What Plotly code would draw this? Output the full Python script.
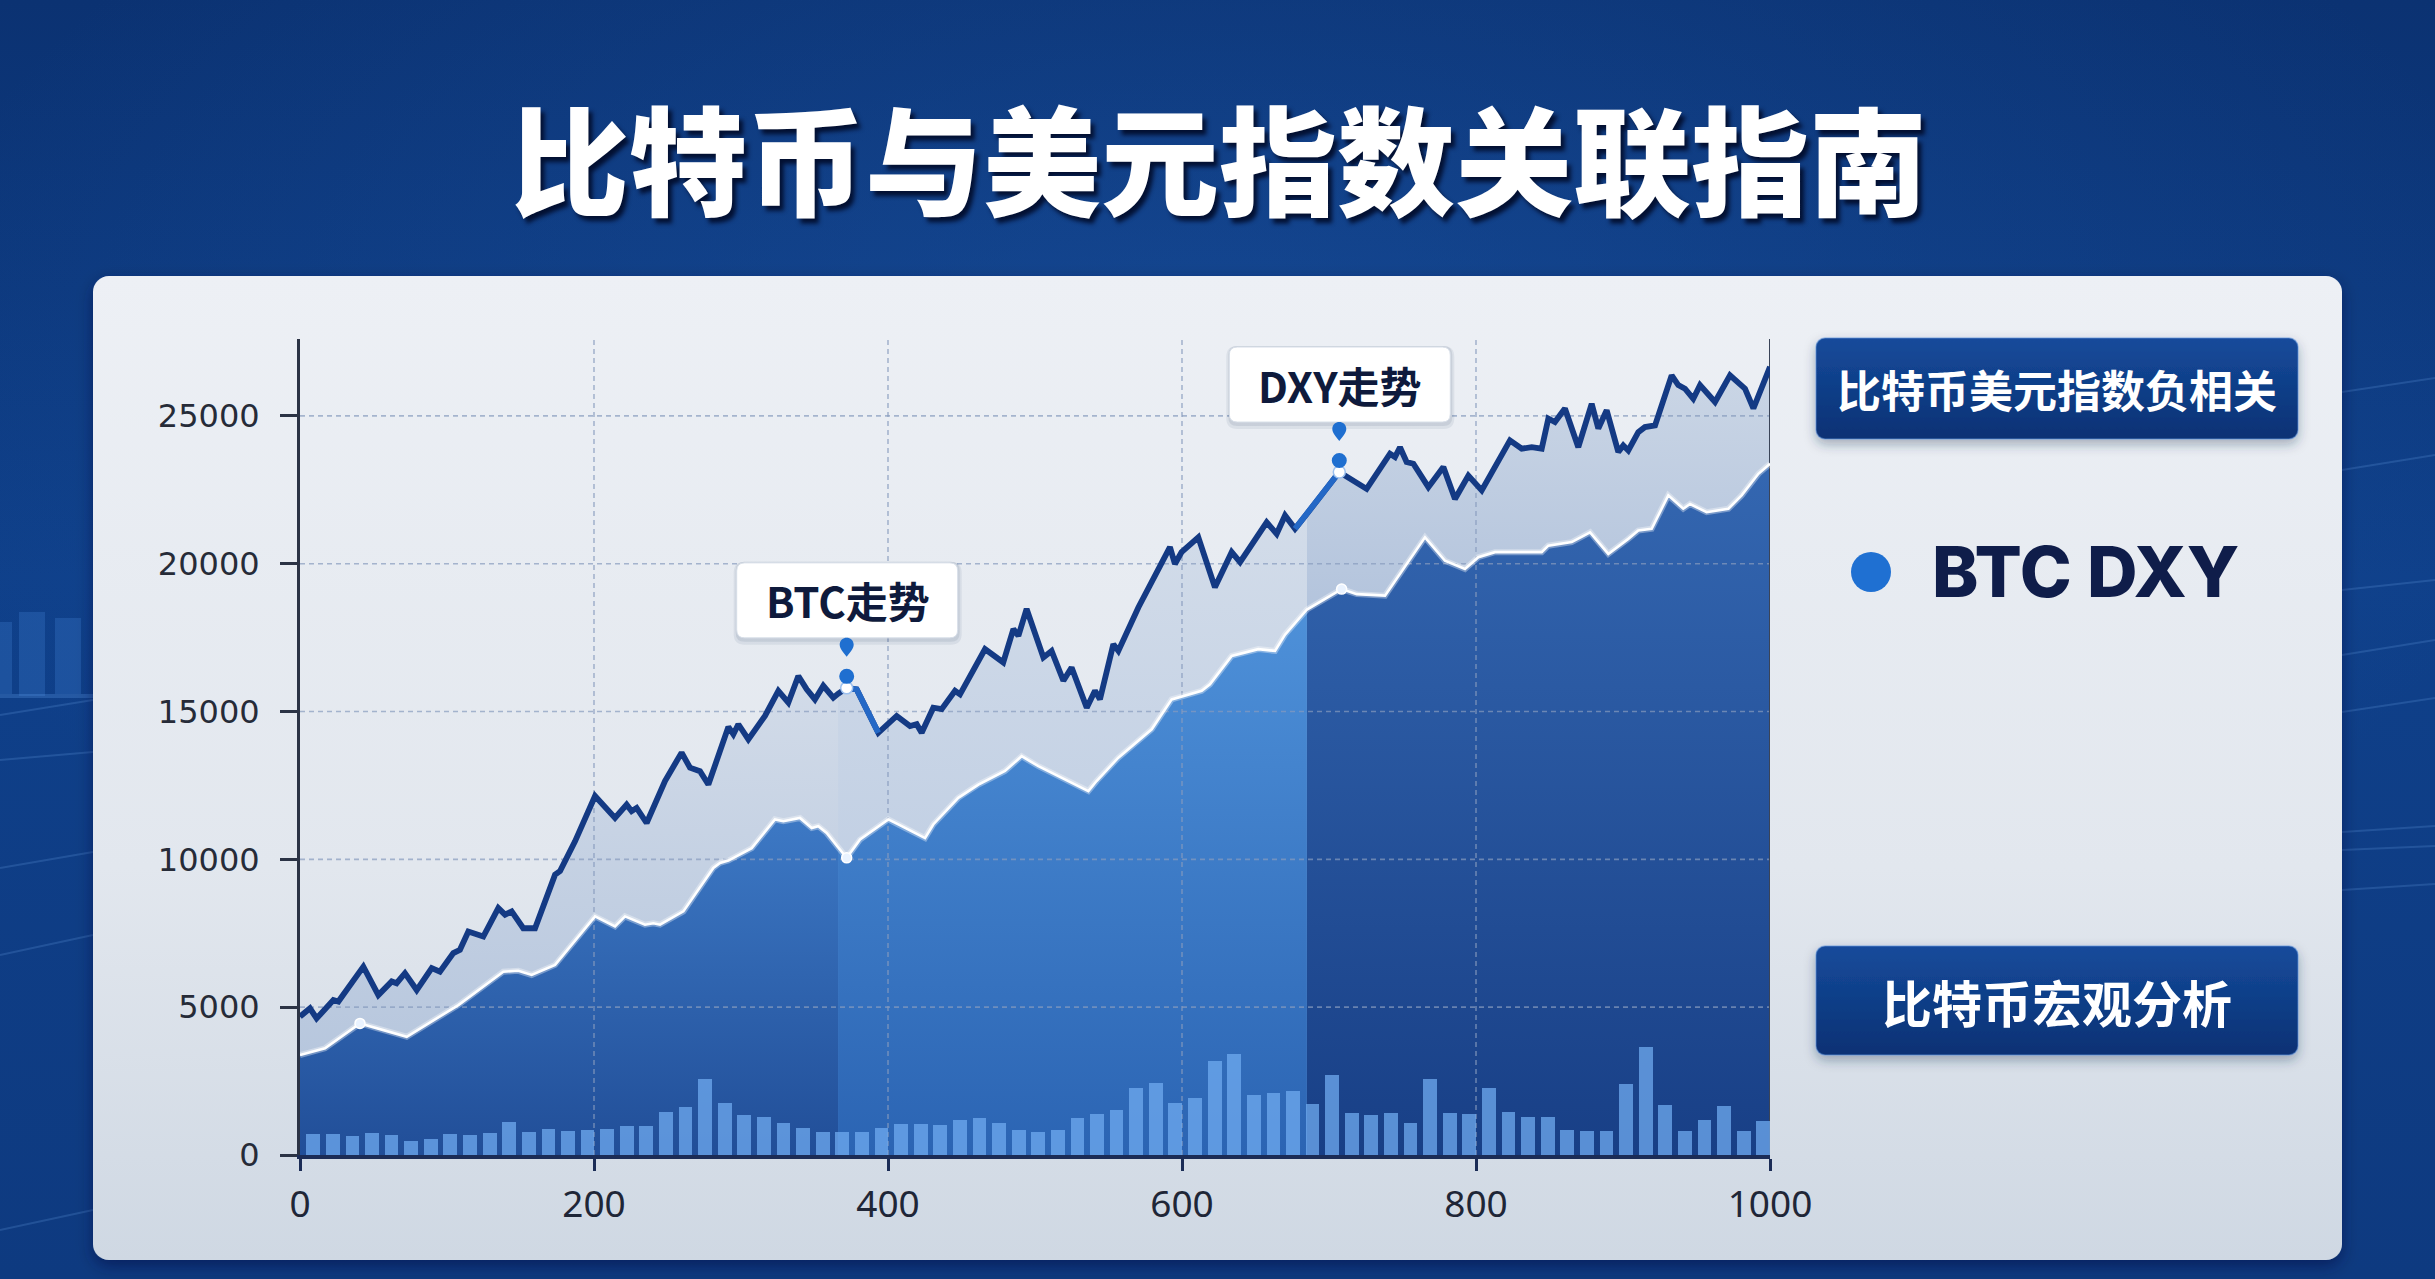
import base64
import plotly.graph_objects as go

# ---------------- canvas geometry ----------------
W, H = 2435, 1279
L, R, T, B = 300, 665, 339, 124
PW, PH = W - L - R, H - T - B

X_MAX = 1000
Y_MAX = 27600

# ---------------- data ----------------
x_ticks = [0, 200, 400, 600, 800, 1000]
y_ticks = [0, 5000, 10000, 15000, 20000, 25000]

btc_x = [0, 6.8, 11.3, 22.7, 26.1, 43.1, 53.3, 62.4, 65.7, 71.4,
         79.4, 89.6, 95.2, 104.3, 108.8, 114.5, 124.7, 134.9, 139.5, 144.0,
         151.9, 159.9, 173.5, 176.9, 187.1, 200.7, 214.3, 222.2, 225.6, 229.0,
         235.8, 248.3, 259.6, 265.3, 272.1, 277.8, 291.4, 294.8, 298.2, 305.0,
         316.3, 325.4, 332.2, 339.0, 344.7, 350.3, 356.0, 362.8, 366.0, 371.9,
         378.7, 393.4, 405.9, 415.0, 419.5, 422.9, 430.8, 436.5, 445.6, 449.0,
         466.0, 478.4, 485.3, 488.7, 494.3, 505.7, 511.3, 519.3, 524.9, 535.2,
         540.8, 544.2, 553.3, 556.7, 570.3, 591.8, 595.2, 599.7, 611.1, 622.4,
         633.8, 639.5, 657.6, 664.4, 670.1, 676.9, 685.0, 707.0, 725.6, 741.5,
         744.9, 748.3, 752.8, 757.4, 767.6, 777.8, 785.7, 794.8, 803.9, 823.1,
         831.1, 837.9, 844.7, 849.2, 853.7, 860.5, 869.6, 878.7, 883.2, 888.9,
         896.8, 900.2, 903.6, 910.4, 914.9, 921.8, 933.1, 937.6, 942.2, 947.8,
         952.4, 956.9, 962.6, 972.8, 978.5, 983.0, 988.7, 1000]
btc_y = [4680, 4960, 4620, 5240, 5190, 6370, 5410, 5870, 5810, 6150,
         5580, 6320, 6200, 6830, 6940, 7560, 7390, 8350, 8130, 8240,
         7670, 7670, 9480, 9600, 10610, 12140, 11400, 11850, 11630, 11740,
         11230, 12650, 13610, 13100, 12980, 12530, 14480, 14230, 14570, 14060,
         14850, 15700, 15300, 16200, 15750, 15410, 15870, 15470, 15600, 15800,
         15750, 14280, 14850, 14510, 14570, 14280, 15130, 15080, 15700, 15580,
         17110, 16660, 17790, 17560, 18470, 16830, 17050, 16040, 16490, 15130,
         15700, 15410, 17280, 17050, 18520, 20560, 19990, 20390, 20890, 19200,
         20390, 20050, 21400, 21010, 21630, 21180, 21690, 23100, 22530, 23720,
         23610, 23940, 23440, 23380, 22590, 23270, 22190, 22980, 22480, 24170,
         23890, 23940, 23890, 24910, 24790, 25250, 23940, 25410, 24570, 25190,
         23780, 24000, 23830, 24450, 24620, 24680, 26370, 26040, 25920, 25580,
         26040, 25810, 25470, 26370, 26150, 25920, 25250, 26660]

dxy_x = [0, 17.0, 40.8, 44.2, 72.6, 107.7, 138.3, 148.5, 157.6, 173.5,
         200.7, 214.3, 221.1, 234.7, 240.4, 244.9, 260.8, 281.2, 285.7, 291.4,
         307.3, 323.1, 328.8, 340.1, 348.1, 352.6, 358.3, 366.0, 371.9, 381.0,
         392.3, 400.2, 407.0, 425.2, 430.8, 447.8, 461.5, 472.8, 479.6, 490.9,
         502.3, 536.3, 541.9, 556.7, 570.3, 579.4, 593.0, 597.5, 613.4, 619.0,
         633.8, 651.9, 663.3, 670.1, 685.0, 708.6, 718.9, 738.1, 765.3, 778.9,
         792.5, 801.6, 812.9, 831.1, 844.7, 849.2, 865.1, 877.6, 890.0, 903.6,
         910.4, 919.5, 930.8, 941.0, 945.6, 956.9, 971.7, 980.7, 992.1, 1000]
dxy_y = [3380, 3610, 4450, 4400, 4000, 5070, 6200, 6230, 6090, 6430,
         8070, 7730, 8070, 7790, 7840, 7790, 8240, 9710, 9880, 9960,
         10380, 11350, 11290, 11400, 11060, 11120, 10890, 10410, 10050, 10670,
         11060, 11350, 11180, 10720, 11180, 12080, 12530, 12820, 12990, 13490,
         13150, 12310, 12650, 13440, 14000, 14400, 15410, 15470, 15700, 15920,
         16880, 17110, 17050, 17600, 18450, 19140, 18970, 18920, 20890, 20100,
         19820, 20220, 20390, 20390, 20390, 20610, 20730, 21060, 20330, 20840,
         21120, 21180, 22310, 21860, 22020, 21740, 21860, 22310, 23040, 23380]

vol_y = [696, 696, 651, 730, 674, 483, 550, 696, 674, 730,
         1123, 786, 876, 808, 842, 865, 988, 988, 1460, 1628,
         2572, 1774, 1348, 1292, 1067, 898, 764, 764, 786, 921,
         1044, 1044, 1011, 1179, 1235, 1067, 842, 764, 842, 1258,
         1381, 1516, 2280, 2437, 1763, 1932, 3167, 3425, 2021, 2111,
         2179, 1741, 2695, 1426, 1370, 1404, 1067, 2572, 1437, 1393,
         2268, 1471, 1269, 1291, 842, 809, 809, 2392, 3650, 1696,
         820, 1168, 1662, 820, 1157]
vol_x = [round(9 + i * 13.33, 1) for i in range(len(vol_y))]
VOL_W = 9.4

band_edges = [0, 366.0, 685.0, 1000]
btc_note_x = 371.9
dxy_note_x = 707.0
dxy_dot_x = [40.8, 371.9, 708.6]
btc_hi = [(371.9, 393.4), (676.9, 707.0)]

title_text = "比特币与美元指数关联指南"
box1_text = "比特币美元指数负相关"
legend_text = "BTC DXY"
box2_text = "比特币宏观分析"

# ---------------- styles ----------------
dxy_fill_styles = [
    dict(c0="#214e98", c1="#3d79c5", start=0, stop=11500),
    dict(c0="#2b64b3", c1="#4f92da", start=0, stop=19000),
    dict(c0="#183f86", c1="#3467b1", start=0, stop=23500),
]
gap_fill_styles = [
    dict(c0="#b6c6dd", c1="#d3dce9", start=3000, stop=16500),
    dict(c0="#c2d0e4", c1="#d5deea", start=10000, stop=23500),
    dict(c0="#b2c3dc", c1="#ccd7e6", start=18000, stop=27000),
]


def px_x(p):
    return (p - L) / PW


def px_y(p):
    return (H - B - p) / PH


def seg(xs, ys, a, b):
    pts = [(x, y) for x, y in zip(xs, ys) if a <= x <= b]
    return [p[0] for p in pts], [p[1] for p in pts]


# ---------------- background svg ----------------
svg = f'''<svg xmlns="http://www.w3.org/2000/svg" width="{W}" height="{H}" viewBox="0 0 {W} {H}">
<defs>
<linearGradient id="bg" x1="0" y1="0" x2="0" y2="1">
<stop offset="0" stop-color="#0b3272"/><stop offset="0.45" stop-color="#0f408a"/><stop offset="1" stop-color="#0e3a80"/>
</linearGradient>
<radialGradient id="glow" cx="0.5" cy="0.3" r="0.55">
<stop offset="0" stop-color="#1d58aa" stop-opacity="0.45"/><stop offset="1" stop-color="#1d58aa" stop-opacity="0"/>
</radialGradient>
<linearGradient id="card" x1="0" y1="0" x2="0" y2="1">
<stop offset="0" stop-color="#edf0f5"/><stop offset="0.6" stop-color="#e2e7ee"/><stop offset="1" stop-color="#cfd8e3"/>
</linearGradient>
<linearGradient id="box" x1="0" y1="0" x2="0" y2="1">
<stop offset="0" stop-color="#154b9b"/><stop offset="1" stop-color="#0a3174"/>
</linearGradient>
<filter id="sh" x="-10%" y="-10%" width="120%" height="130%">
<feDropShadow dx="0" dy="6" stdDeviation="8" flood-color="#001030" flood-opacity="0.45"/>
</filter>
<filter id="sh2" x="-10%" y="-20%" width="120%" height="150%">
<feDropShadow dx="0" dy="5" stdDeviation="6" flood-color="#203050" flood-opacity="0.35"/>
</filter>
</defs>
<rect x="0" y="0" width="{W}" height="{H}" fill="url(#bg)"/>
<rect x="0" y="0" width="{W}" height="{H}" fill="url(#glow)"/>
<g stroke="#6fa2e6" stroke-opacity="0.22" stroke-width="2" fill="none">
<line x1="0" y1="715" x2="93" y2="700"/>
<line x1="0" y1="760" x2="93" y2="752"/>
<line x1="0" y1="868" x2="93" y2="852"/>
<line x1="0" y1="955" x2="93" y2="935"/>
<line x1="0" y1="1230" x2="93" y2="1210"/>
<line x1="2342" y1="392" x2="2435" y2="378"/>
<line x1="2342" y1="470" x2="2435" y2="455"/>
<line x1="2342" y1="590" x2="2435" y2="580"/>
<line x1="2342" y1="655" x2="2435" y2="640"/>
<line x1="2342" y1="712" x2="2435" y2="698"/>
<line x1="2342" y1="832" x2="2435" y2="826"/>
<line x1="2342" y1="850" x2="2435" y2="846"/>
<line x1="2342" y1="890" x2="2435" y2="884"/>
</g>
<g fill="#3f7fd0" fill-opacity="0.3">
<rect x="0" y="622" width="12" height="72"/>
<rect x="19" y="612" width="26" height="84"/>
<rect x="55" y="618" width="26" height="76"/>
</g>
<rect x="0" y="694" width="93" height="4" fill="#5a95e0" fill-opacity="0.3"/>
<rect x="93" y="276" width="2249" height="984" rx="16" ry="16" fill="url(#card)" filter="url(#sh)"/>
<rect x="1816" y="338" width="482" height="101" rx="9" ry="9" fill="url(#box)" stroke="#5d8fd8" stroke-opacity="0.5" stroke-width="1.5" filter="url(#sh2)"/>
<rect x="1816" y="946" width="482" height="109" rx="9" ry="9" fill="url(#box)" stroke="#5d8fd8" stroke-opacity="0.5" stroke-width="1.5" filter="url(#sh2)"/>
<circle cx="1871" cy="572" r="20" fill="#1f70d2"/>
</svg>'''
bg_uri = "data:image/svg+xml;base64," + base64.b64encode(svg.encode("utf-8")).decode("ascii")

# ---------------- figure ----------------
fig = go.Figure()

# fills per band
for i in range(3):
    a, b = band_edges[i], band_edges[i + 1]
    dx, dy = seg(dxy_x, dxy_y, a, b)
    bx, by = seg(btc_x, btc_y, a, b)
    s = dxy_fill_styles[i]
    fig.add_trace(go.Scatter(
        x=dx, y=dy, mode="lines", line=dict(width=0), fill="tozeroy",
        fillgradient=dict(type="vertical", start=s["start"], stop=s["stop"],
                          colorscale=[[0, s["c0"]], [1, s["c1"]]]),
        hoverinfo="skip", showlegend=False))
    g = gap_fill_styles[i]
    fig.add_trace(go.Scatter(
        x=bx, y=by, mode="lines", line=dict(width=0), fill="tonexty",
        fillgradient=dict(type="vertical", start=g["start"], stop=g["stop"],
                          colorscale=[[0, g["c0"]], [1, g["c1"]]]),
        hoverinfo="skip", showlegend=False))

# grid lines (dashed) drawn above fills
gx, gy = [], []
for v in x_ticks[1:-1]:
    gx += [v, v, None]
    gy += [0, Y_MAX, None]
for v in y_ticks[1:]:
    gx += [0, X_MAX, None]
    gy += [v, v, None]
fig.add_trace(go.Scatter(x=gx, y=gy, mode="lines",
                         line=dict(color="rgba(135,155,190,0.7)", width=1.6, dash="5px,4px"),
                         hoverinfo="skip", showlegend=False))

# right frame line
fig.add_trace(go.Scatter(x=[X_MAX, X_MAX], y=[0, Y_MAX], mode="lines",
                         line=dict(color="#3a4458", width=2),
                         hoverinfo="skip", showlegend=False))

# DXY line
fig.add_trace(go.Scatter(x=dxy_x, y=dxy_y, mode="lines",
                         line=dict(color="rgba(255,255,255,0.35)", width=6),
                         hoverinfo="skip", showlegend=False))
fig.add_trace(go.Scatter(x=dxy_x, y=dxy_y, mode="lines",
                         line=dict(color="#ffffff", width=2.6),
                         hoverinfo="skip", showlegend=False))

# BTC line
fig.add_trace(go.Scatter(x=btc_x, y=btc_y, mode="lines",
                         line=dict(color="#143a84", width=5.8),
                         hoverinfo="skip", showlegend=False))
for a, b in btc_hi:
    hx, hy = seg(btc_x, btc_y, a, b)
    fig.add_trace(go.Scatter(x=hx, y=hy, mode="lines",
                             line=dict(color="#2468c6", width=5.8),
                             hoverinfo="skip", showlegend=False))

# white dots
dd_y = [dxy_y[dxy_x.index(v)] for v in dxy_dot_x]
fig.add_trace(go.Scatter(x=dxy_dot_x, y=dd_y, mode="markers",
                         marker=dict(size=10, color="#eaf3ff", line=dict(color="#ffffff", width=1.5)),
                         hoverinfo="skip", showlegend=False))
note_pts = [(btc_note_x, btc_y[btc_x.index(btc_note_x)], "BTC走势"),
            (dxy_note_x, btc_y[btc_x.index(dxy_note_x)], "DXY走势")]
fig.add_trace(go.Scatter(x=[p[0] for p in note_pts], y=[p[1] for p in note_pts], mode="markers",
                         marker=dict(size=12, color="#ffffff", line=dict(color="#9cc0ee", width=1.5)),
                         hoverinfo="skip", showlegend=False))

# volume bars on overlay axes (drawn above fills)
fig.add_trace(go.Bar(x=vol_x, y=vol_y, width=VOL_W, xaxis="x2", yaxis="y2",
                     marker=dict(color="rgba(112,172,240,0.74)", line=dict(width=0)),
                     hoverinfo="skip", showlegend=False))


# ---------------- notes (boxes, pins) ----------------
def rrect(x0, y0, x1, y1, r):
    return (f"M {x0 + r},{y0} L {x1 - r},{y0} Q {x1},{y0} {x1},{y0 + r} "
            f"L {x1},{y1 - r} Q {x1},{y1} {x1 - r},{y1} L {x0 + r},{y1} "
            f"Q {x0},{y1} {x0},{y1 - r} L {x0},{y0 + r} Q {x0},{y0} {x0 + r},{y0} Z")


pin_path = ("M 0,31 C -3,35 -7,39 -7,43 C -7,47.5 -3.5,50 0,50 "
            "C 3.5,50 7,47.5 7,43 C 7,39 3,35 0,31 Z")

shapes = []
annotations = []
for nx, ny, label in note_pts:
    base = dict(xref="x", yref="y", xsizemode="pixel", ysizemode="pixel",
                xanchor=nx, yanchor=ny, layer="above")
    shapes.append(dict(type="path", path=rrect(-113, 43, 115, 126, 11),
                       fillcolor="rgba(20,40,80,0.07)", line=dict(width=0), **base))
    shapes.append(dict(type="path", path=rrect(-111, 46, 113, 126, 9),
                       fillcolor="rgba(20,40,80,0.09)", line=dict(width=0), **base))
    shapes.append(dict(type="path", path=rrect(-110, 50, 111, 125, 8),
                       fillcolor="#ffffff", line=dict(color="#d7dee8", width=1), **base))
    shapes.append(dict(type="path", path=pin_path, fillcolor="#1f6fd0",
                       line=dict(width=0), **base))
    shapes.append(dict(type="circle", x0=-7.5, x1=7.5, y0=4, y1=19, fillcolor="#1f6fd0",
                       line=dict(width=0), **base))
    annotations.append(dict(x=nx, y=ny, xref="x", yref="y", xshift=1, yshift=88,
                            text=label, showarrow=False, xanchor="center", yanchor="middle",
                            font=dict(family="Noto Sans CJK SC", size=42, color="#0e1a3c", weight=700)))

annotations += [
    dict(x=px_x(1219), y=px_y(156), xref="paper", yref="paper", text=title_text,
         showarrow=False, xanchor="center", yanchor="middle",
         font=dict(family="Noto Sans CJK SC", size=118, color="#ffffff", weight=900,
                   shadow="4px 5px 4px rgba(0,8,35,0.85)")),
    dict(x=px_x(2057), y=px_y(389), xref="paper", yref="paper", text=box1_text,
         showarrow=False, xanchor="center", yanchor="middle",
         font=dict(family="Noto Sans CJK SC", size=44, color="#ffffff", weight=700)),
    dict(x=px_x(1930), y=px_y(571), xref="paper", yref="paper", text=legend_text,
         showarrow=False, xanchor="left", yanchor="middle",
         font=dict(family="Inter", size=70, color="#0f1d4a", weight=800)),
    dict(x=px_x(2057), y=px_y(1001), xref="paper", yref="paper", text=box2_text,
         showarrow=False, xanchor="center", yanchor="middle",
         font=dict(family="Noto Sans CJK SC", size=50, color="#ffffff", weight=700)),
]

fig.update_layout(
    width=W, height=H,
    margin=dict(l=L, r=R, t=T, b=B, pad=0),
    paper_bgcolor="#0f3d86",
    plot_bgcolor="rgba(0,0,0,0)",
    showlegend=False,
    hovermode=False,
    bargap=0,
    images=[dict(source=bg_uri, xref="paper", yref="paper",
                 x=-L / PW, y=(H - B) / PH, sizex=W / PW, sizey=H / PH,
                 xanchor="left", yanchor="top", sizing="stretch", layer="below")],
    xaxis=dict(range=[0, X_MAX], tickvals=x_ticks, ticktext=[str(v) for v in x_ticks],
               showgrid=False, zeroline=False, showline=True, linecolor="#1b2c56", linewidth=4,
               ticks="outside", ticklen=12, tickwidth=2.5, tickcolor="#1b2c56",
               ticklabelstandoff=2,
               tickfont=dict(family="Noto Sans", size=37, color="#1f2637"),
               layer="above traces", fixedrange=True),
    yaxis=dict(range=[0, Y_MAX], tickvals=y_ticks, ticktext=[str(v) for v in y_ticks],
               showgrid=False, zeroline=False, showline=True, linecolor="#2b3345", linewidth=3,
               ticks="outside", ticklen=17, tickwidth=3, tickcolor="#2b3345",
               ticklabelstandoff=14,
               tickfont=dict(family="DejaVu Sans", size=32, color="#262b38"),
               layer="above traces", fixedrange=True),
    xaxis2=dict(range=[0, X_MAX], overlaying="x", anchor="y2", showgrid=False, zeroline=False,
                showline=True, linecolor="#1b2c56", linewidth=4, ticks="", showticklabels=False,
                layer="above traces", fixedrange=True),
    yaxis2=dict(range=[0, Y_MAX], overlaying="y", anchor="x2", visible=False, fixedrange=True),
    shapes=shapes,
    annotations=annotations,
)

fig.write_html("out.html", config={"displayModeBar": False},
               post_script="document.body.style.margin='0';document.body.style.padding='0';document.body.style.overflow='hidden';")
